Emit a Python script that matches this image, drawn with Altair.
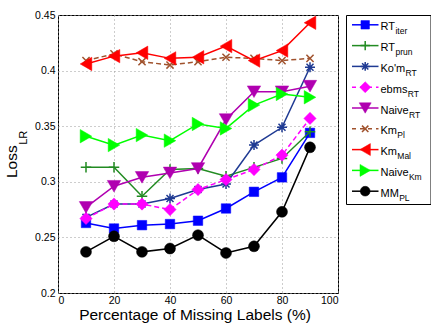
import altair as alt
import pandas as pd

# ---------------- data ----------------
x_vals = [10, 20, 30, 40, 50, 60, 70, 80, 90]
rt_iter = [0.263, 0.258, 0.261, 0.262, 0.265, 0.276, 0.291, 0.304, 0.344]
rt_prun = [0.313, 0.313, 0.287, 0.311, 0.312, 0.305, 0.313, 0.321, 0.345]
kom_rt = [0.268, 0.280, 0.280, 0.285, 0.293, 0.298, 0.333, 0.349, 0.403]
ebms_rt = [0.267, 0.280, 0.280, 0.275, 0.293, 0.302, 0.311, 0.324, 0.357]
naive_rt = [0.277, 0.296, 0.304, 0.308, 0.312, 0.356, 0.381, 0.381, 0.386]
km_pl = [0.409, 0.415, 0.408, 0.405, 0.408, 0.412, 0.411, 0.409, 0.411]
km_mal = [0.406, 0.413, 0.416, 0.411, 0.412, 0.422, 0.409, 0.418, 0.443]
naive_km = [0.341, 0.333, 0.342, 0.337, 0.352, 0.348, 0.369, 0.379, 0.376]
mm_pl = [0.237, 0.251, 0.237, 0.240, 0.252, 0.236, 0.242, 0.273, 0.331]

label_main = ["RT", "RT", "Ko'm", "ebms", "Naive", "Km", "Km", "Naive", "MM"]
label_sub = ["iter", "prun", "RT", "RT", "RT", "Pl", "Mal", "Km", "PL"]
series_values = [rt_iter, rt_prun, kom_rt, ebms_rt, naive_rt, km_pl, km_mal, naive_km, mm_pl]

x_ticks = [0, 20, 40, 60, 80, 100]
y_ticks = [0.2, 0.25, 0.3, 0.35, 0.4, 0.45]
x_title = "Percentage of Missing Labels (%)"
y_title_main = "Loss"
y_title_sub = "LR"

# ---------------- styles ----------------
PLUS = "M-1,0L1,0M0,-1L0,1"
STAR = "M-1,0L1,0M0,-1L0,1M-0.7,-0.7L0.7,0.7M-0.7,0.7L0.7,-0.7"
XSH = "M-0.8,-0.8L0.8,0.8M-0.8,0.8L0.8,-0.8"
# color, shape, filled, dash, size
styles = [
    ("#0000FF", "square", True, None, 90),
    ("#228B22", PLUS, False, None, 110),
    ("#1F3A93", STAR, False, None, 100),
    ("#FF00FF", "diamond", True, [5, 3], 150),
    ("#B000B0", "triangle-down", True, None, 180),
    ("#A0522D", XSH, False, [5, 3], 80),
    ("#FF0000", "triangle-left", True, None, 180),
    ("#00FF00", "triangle-right", True, None, 180),
    ("#000000", "circle", True, None, 120),
]

FONT = "Liberation Sans"
W = {'R': 722, 'T': 611, 'K': 667, 'o': 556, "'": 191, 'm': 833, 'e': 556, 'b': 556,
     's': 500, 'N': 722, 'a': 556, 'i': 222, 'v': 500, 'M': 833}


def text_width(t, fs):
    return sum(W.get(c, 556) for c in t) * fs / 1000.0


X = alt.X("x:Q", scale=alt.Scale(domain=[0, 100], nice=False, zero=False),
          axis=alt.Axis(values=x_ticks, title=None, labelFont=FONT, labelFontSize=10.5,
                        labelColor="black", labelPadding=2, grid=True, gridColor="#9a9a9a",
                        gridDash=[1, 3], domain=False, ticks=False))
Y = alt.Y("y:Q", scale=alt.Scale(domain=[0.2, 0.45], nice=False, zero=False),
          axis=alt.Axis(values=y_ticks, format=".2~f", title=None, labelFont=FONT,
                        labelFontSize=10.5, labelColor="black", labelPadding=3, grid=True,
                        gridColor="#9a9a9a", gridDash=[1, 3], domain=False, ticks=False))

layers = []
for vals, (col, shape, filled, dash, size) in zip(series_values, styles):
    df = pd.DataFrame({"x": x_vals, "y": vals})
    line_kw = dict(color=col, strokeWidth=1.5)
    if dash:
        line_kw["strokeDash"] = dash
    layers.append(alt.Chart(df).mark_line(**line_kw).encode(x=X, y=Y))
    pt_kw = dict(shape=shape, size=size, opacity=1)
    if filled:
        pt_kw.update(filled=True, fill=col, stroke=col, strokeWidth=0.5)
    else:
        pt_kw.update(filled=False, stroke=col, strokeWidth=1.5)
    layers.append(alt.Chart(df).mark_point(**pt_kw).encode(x=X, y=Y))

one = pd.DataFrame({"k": [0]})

# ---------------- legend ----------------
layers.append(alt.Chart(one).mark_rect(fill="white", stroke="black", strokeWidth=1).encode(
    x=alt.value(288.5), x2=alt.value(373), y=alt.value(0.5), y2=alt.value(189.5)))
for i, (m, s, (col, shape, filled, dash, size)) in enumerate(zip(label_main, label_sub, styles)):
    yy = 9.8 + 20.8 * i
    rule_kw = dict(color=col, strokeWidth=1.5)
    if dash:
        rule_kw["strokeDash"] = [4, 4]
        rule_kw["strokeDashOffset"] = 0
    layers.append(alt.Chart(one).mark_rule(**rule_kw).encode(
        x=alt.value(294), x2=alt.value(320.5), y=alt.value(yy)))
    pt_kw = dict(shape=shape, size=size * 0.8, opacity=1)
    if filled:
        pt_kw.update(filled=True, fill=col, stroke=col, strokeWidth=0.5)
    else:
        pt_kw.update(filled=False, stroke=col, strokeWidth=1.5)
    layers.append(alt.Chart(one).mark_point(**pt_kw).encode(x=alt.value(307.2), y=alt.value(yy)))
    tx = 322.5
    layers.append(alt.Chart(pd.DataFrame({"t": [m]})).mark_text(
        align="left", baseline="alphabetic", font=FONT, fontSize=11, color="black").encode(
        x=alt.value(tx), y=alt.value(yy + 5.5), text="t:N"))
    layers.append(alt.Chart(pd.DataFrame({"t": [s]})).mark_text(
        align="left", baseline="alphabetic", font=FONT, fontSize=8.5, color="black").encode(
        x=alt.value(tx + text_width(m, 11) + 0.3), y=alt.value(yy + 9.5), text="t:N"))

# ---------------- axis titles ----------------
layers.append(alt.Chart(pd.DataFrame({"t": [x_title]})).mark_text(
    align="center", baseline="alphabetic", font=FONT, fontSize=15.5, color="black").encode(
    x=alt.value(137), y=alt.value(304.5), text="t:N"))
layers.append(alt.Chart(pd.DataFrame({"t": [y_title_main]})).mark_text(
    align="left", baseline="alphabetic", font=FONT, fontSize=15.5, color="black", angle=270).encode(
    x=alt.value(-41), y=alt.value(163), text="t:N"))
layers.append(alt.Chart(pd.DataFrame({"t": [y_title_sub]})).mark_text(
    align="left", baseline="alphabetic", font=FONT, fontSize=11, color="black", angle=270).encode(
    x=alt.value(-31.5), y=alt.value(163 - text_width("Loss", 15.5) - 0.5), text="t:N"))

chart = alt.layer(*layers).properties(
    width=280, height=278,
    autosize=alt.AutoSizeParams(type="none"),
    padding={"left": 58, "top": 15, "right": 93, "bottom": 32},
    background="white",
).configure_view(stroke="black", strokeWidth=1)

chart.save("out.html", embed_options={"renderer": "svg", "actions": False})
